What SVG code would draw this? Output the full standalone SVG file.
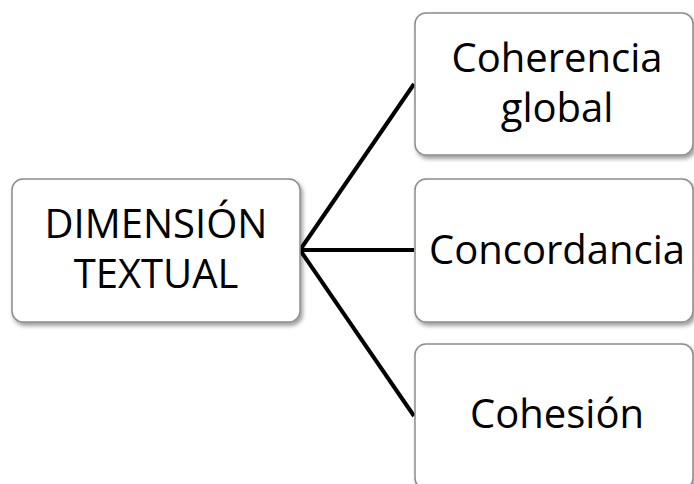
<svg xmlns="http://www.w3.org/2000/svg" width="694" height="484" viewBox="0 0 694 484">
<defs>
<filter id="sh" x="-10%" y="-10%" width="130%" height="130%">
<feGaussianBlur in="SourceAlpha" stdDeviation="2"/>
<feOffset dx="2" dy="3" result="b"/>
<feComponentTransfer><feFuncA type="linear" slope="0.4"/></feComponentTransfer>
<feMerge><feMergeNode/><feMergeNode in="SourceGraphic"/></feMerge>
</filter>
</defs>
<style>
.box{fill:#fff;stroke:#8c8c8c;stroke-width:1.5;filter:url(#sh)}
.t{font-family:"Open Sans","Noto Sans",sans-serif;font-size:40px;fill:#000;text-anchor:middle}
.c{stroke:#000;stroke-width:4;fill:none;stroke-linecap:butt}
</style>
<rect width="694" height="484" fill="#fff"/>
<g id="connectors">
<line class="c" x1="300" y1="250" x2="414" y2="84"/>
<line class="c" x1="300" y1="250" x2="414" y2="250"/>
<line class="c" x1="300" y1="250" x2="414" y2="416"/>
</g>
<g id="n-dimension">
<rect class="box" x="12" y="179" width="288" height="143" rx="11"/>
<text class="t" x="156" y="238">DIMENSIÓN</text>
<text class="t" x="156" y="288">TEXTUAL</text>
</g>
<g id="n-coherencia">
<rect class="box" x="415" y="13" width="278" height="142" rx="11"/>
<text class="t" x="557" y="72">Coherencia</text>
<text class="t" x="557" y="122">global</text>
</g>
<g id="n-concordancia">
<rect class="box" x="415" y="179" width="278" height="143" rx="11"/>
<text class="t" x="557" y="264">Concordancia</text>
</g>
<g id="n-cohesion">
<rect class="box" x="415" y="344" width="278" height="145" rx="11"/>
<text class="t" x="557" y="428">Cohesión</text>
</g>
</svg>
